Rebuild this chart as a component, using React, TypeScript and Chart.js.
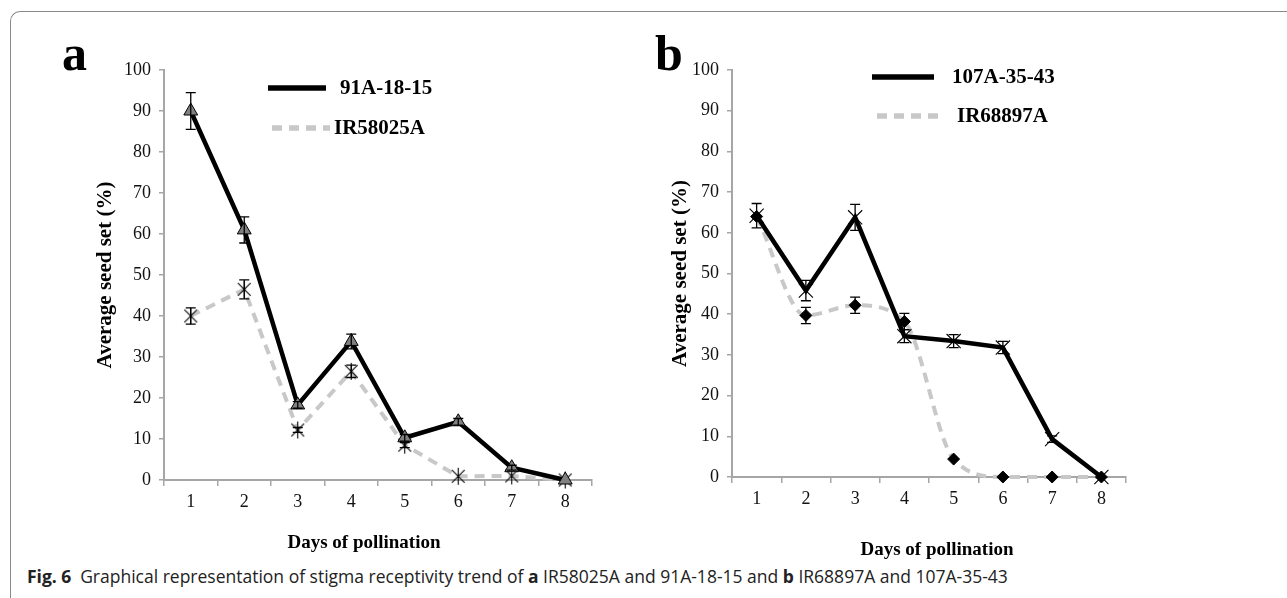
import React, { useEffect, useRef } from "react";
import { Chart, registerables } from "chart.js";

Chart.register(...registerables);

// ---------- data ----------
const days = ["1", "2", "3", "4", "5", "6", "7", "8"];

const labelA1 = "91A-18-15";
const a91A = [90.0, 61.0, 18.3, 33.8, 10.3, 14.2, 3.0, 0.0];
const a91AErr = [4.5, 3.2, 0.8, 1.8, 0.8, 0.8, 0.6, 0.0];

const labelA2 = "IR58025A";
const aIR58025A = [40.0, 46.5, 12.2, 26.5, 8.5, 0.9, 1.0, 0.0];
const aIR58025AErr = [2.0, 2.3, 0.6, 1.5, 0.6, 0.0, 0.0, 0.0];

const labelB1 = "107A-35-43";
const b107A = [64.2, 45.8, 63.8, 34.6, 33.4, 31.8, 9.3, 0.0];
const b107AErr = [3.0, 2.5, 3.2, 1.6, 1.6, 1.5, 0.8, 0.0];

const labelB2 = "IR68897A";
const bIR68897A = [64.0, 39.7, 42.2, 38.2, 4.4, 0.0, 0.0, 0.0];
const bIR68897AErr = [0.0, 2.0, 2.0, 2.0, 0.0, 0.0, 0.0, 0.0];

const yTitle = "Average seed set (%)";
const xTitle = "Days of pollination";

// ---------- styles ----------
const SERIF = '"Liberation Serif", "Times New Roman", serif';
const GRAY_LINE = "#c8c8c8";
const AXIS = "#a6a6a6";

function makeAsterisk(r: number) {
  const s = Math.ceil(r * 2 + 2);
  const c = document.createElement("canvas");
  c.width = s;
  c.height = s;
  const ctx = c.getContext("2d")!;
  const m = s / 2;
  const d = r * 0.75;
  ctx.strokeStyle = "#000";
  ctx.lineWidth = 1.1;
  ctx.beginPath();
  ctx.moveTo(m - d, m - d);
  ctx.lineTo(m + d, m + d);
  ctx.moveTo(m + d, m - d);
  ctx.lineTo(m - d, m + d);
  ctx.moveTo(m, m - r);
  ctx.lineTo(m, m + r);
  ctx.stroke();
  return c;
}

const errorBars = {
  id: "errorBars",
  afterDatasetsDraw(chart: any) {
    const ctx = chart.ctx;
    const ys = chart.scales.y;
    chart.data.datasets.forEach((ds: any, i: number) => {
      const errs = ds.errors;
      if (!errs) return;
      const meta = chart.getDatasetMeta(i);
      meta.data.forEach((pt: any, j: number) => {
        const e = errs[j];
        if (!e) return;
        const v = ds.data[j];
        const x = pt.x;
        const y1 = ys.getPixelForValue(v + e);
        const y2 = ys.getPixelForValue(v - e);
        ctx.save();
        ctx.strokeStyle = "#000";
        ctx.lineWidth = 1.3;
        ctx.beginPath();
        ctx.moveTo(x, y1);
        ctx.lineTo(x, y2);
        ctx.moveTo(x - 5, y1);
        ctx.lineTo(x + 5, y1);
        ctx.moveTo(x - 5, y2);
        ctx.lineTo(x + 5, y2);
        ctx.stroke();
        ctx.restore();
      });
    });
  },
};

const insideLegend = {
  id: "insideLegend",
  afterDraw(chart: any, _args: any, opts: any) {
    const ctx = chart.ctx;
    (opts.items || []).forEach((it: any) => {
      const ds = chart.data.datasets[it.index];
      ctx.save();
      ctx.strokeStyle = ds.borderColor;
      ctx.lineWidth = 5.5;
      ctx.setLineDash(ds.borderDash || []);
      ctx.beginPath();
      ctx.moveTo(it.x1, it.y);
      ctx.lineTo(it.x2, it.y);
      ctx.stroke();
      ctx.setLineDash([]);
      ctx.fillStyle = "#000";
      ctx.font = `bold ${opts.fontSize}px ${SERIF}`;
      ctx.textBaseline = "middle";
      ctx.textAlign = "left";
      ctx.fillText(ds.label, it.tx, it.y + 1);
      ctx.restore();
    });
  },
};

const xAxisTitle = {
  id: "xAxisTitle",
  afterDraw(chart: any, _args: any, opts: any) {
    const ctx = chart.ctx;
    const area = chart.chartArea;
    ctx.save();
    ctx.fillStyle = "#000";
    ctx.font = `bold ${opts.fontSize}px ${SERIF}`;
    ctx.textAlign = "center";
    ctx.textBaseline = "middle";
    ctx.fillText(opts.text, (area.left + area.right) / 2 + (opts.dx || 0), opts.y);
    ctx.restore();
  },
};

function buildOptions(p: {
  padLeft: number;
  padRight: number;
  yWidth: number;
  xHeight: number;
  yTitlePad: number;
  legendItems: any[];
  xTitleDx: number;
  xTitleY: number;
  xTitleSize: number;
}) {
  return {
    animation: false,
    responsive: false,
    maintainAspectRatio: false,
    layout: { padding: { left: p.padLeft, right: p.padRight, top: 70, bottom: 0 } },
    plugins: {
      legend: { display: false },
      tooltip: { enabled: false },
      insideLegend: { items: p.legendItems, fontSize: 21 },
      xAxisTitle: { text: xTitle, dx: p.xTitleDx, y: p.xTitleY, fontSize: p.xTitleSize },
    },
    scales: {
      x: {
        type: "category",
        offset: true,
        afterFit: (s: any) => {
          s.height = p.xHeight;
        },
        grid: {
          offset: true,
          drawOnChartArea: false,
          drawTicks: true,
          tickLength: 6,
          color: AXIS,
          lineWidth: 1.5,
        },
        border: { display: true, color: AXIS, width: 2 },
        ticks: {
          color: "#111",
          padding: 5,
          font: { family: SERIF, size: 18 },
          maxRotation: 0,
        },
      },
      y: {
        min: 0,
        max: 100,
        afterFit: (s: any) => {
          s.width = p.yWidth;
        },
        ticks: {
          stepSize: 10,
          color: "#111",
          padding: 8,
          font: { family: SERIF, size: 18 },
        },
        grid: {
          drawOnChartArea: false,
          drawTicks: true,
          tickLength: 5,
          color: AXIS,
          lineWidth: 1.5,
        },
        border: { display: true, color: AXIS, width: 2 },
        title: {
          display: true,
          text: yTitle,
          color: "#000",
          font: { family: SERIF, size: 21, weight: "bold" },
          padding: { top: p.yTitlePad, bottom: 0 },
        },
      },
    },
  };
}

function useChart(ref: React.RefObject<HTMLCanvasElement | null>, make: () => any) {
  useEffect(() => {
    if (!ref.current) return;
    const cfg = make();
    const chart = new Chart(ref.current, cfg);
    return () => chart.destroy();
  }, []);
}

export default function App() {
  const refA = useRef<HTMLCanvasElement | null>(null);
  const refB = useRef<HTMLCanvasElement | null>(null);

  useEffect(() => {
    document.body.style.margin = "0";
  }, []);

  useChart(refA, () => {
    const star = makeAsterisk(8.5);
    return {
      type: "line",
      data: {
        labels: days,
        datasets: [
          {
            label: labelA1,
            data: a91A,
            errors: a91AErr,
            borderColor: "#000",
            borderWidth: 4.5,
            tension: 0,
            pointStyle: "triangle",
            pointRadius: 8,
            pointBackgroundColor: "#808080",
            pointBorderColor: "#000",
            pointBorderWidth: 1,
            clip: false,
          },
          {
            label: labelA2,
            data: aIR58025A,
            errors: aIR58025AErr,
            borderColor: GRAY_LINE,
            borderWidth: 4,
            borderDash: [10, 7],
            tension: 0,
            pointStyle: star,
            pointRadius: 8,
            clip: false,
          },
        ],
      },
      options: buildOptions({
        padLeft: 91,
        padRight: 48,
        yWidth: 73,
        xHeight: 80,
        yTitlePad: 2,
        xTitleDx: -14,
        xTitleY: 543,
        xTitleSize: 19,
        legendItems: [
          { index: 0, x1: 268, x2: 326, y: 88, tx: 340 },
          { index: 1, x1: 272, x2: 330, y: 128, tx: 334 },
        ],
      }),
      plugins: [errorBars, insideLegend, xAxisTitle],
    };
  });

  useChart(refB, () => {
    return {
      type: "line",
      data: {
        labels: days,
        datasets: [
          {
            label: labelB1,
            data: b107A,
            errors: b107AErr,
            borderColor: "#000",
            borderWidth: 4.5,
            tension: 0,
            pointStyle: "crossRot",
            pointRadius: 10,
            pointBorderColor: "#000",
            pointBorderWidth: 1.1,
            clip: false,
          },
          {
            label: labelB2,
            data: bIR68897A,
            errors: bIR68897AErr,
            borderColor: GRAY_LINE,
            borderWidth: 4,
            borderDash: [10, 7],
            cubicInterpolationMode: "monotone",
            tension: 0.4,
            pointStyle: "rectRot",
            pointRadius: 6,
            pointBackgroundColor: "#000",
            pointBorderColor: "#000",
            pointBorderWidth: 1,
            clip: false,
          },
        ],
      },
      options: buildOptions({
        padLeft: 26,
        padRight: 161,
        yWidth: 66,
        xHeight: 83,
        yTitlePad: 2,
        xTitleDx: 8,
        xTitleY: 550,
        xTitleSize: 19,
        legendItems: [
          { index: 0, x1: 232, x2: 294, y: 77, tx: 312 },
          { index: 1, x1: 237, x2: 299, y: 116, tx: 317 },
        ],
      }),
      plugins: [errorBars, insideLegend, xAxisTitle],
    };
  });

  const panelLabel: React.CSSProperties = {
    position: "absolute",
    top: 28,
    fontFamily: SERIF,
    fontWeight: "bold",
    fontSize: 50,
    lineHeight: "50px",
    color: "#000",
  };

  return (
    <div
      style={{
        position: "relative",
        width: 1287,
        height: 598,
        overflow: "hidden",
        background: "#fff",
      }}
    >
      <div
        style={{
          position: "absolute",
          left: 10,
          top: 11,
          width: 1400,
          height: 700,
          borderTop: "1.5px solid #8a8a8a",
          borderLeft: "1.5px solid #8a8a8a",
          borderTopLeftRadius: 10,
        }}
      />
      <canvas
        ref={refA}
        width={640}
        height={560}
        style={{ position: "absolute", left: 0, top: 0, width: 640, height: 560 }}
      />
      <canvas
        ref={refB}
        width={647}
        height={560}
        style={{ position: "absolute", left: 640, top: 0, width: 647, height: 560 }}
      />
      <div style={{ ...panelLabel, left: 62 }}>a</div>
      <div style={{ ...panelLabel, left: 655 }}>b</div>
      <div
        style={{
          position: "absolute",
          left: 27,
          top: 565,
          fontFamily: '"Open Sans", "Noto Sans", sans-serif',
          fontSize: 17.5,
          lineHeight: "22px",
          color: "#222",
          whiteSpace: "nowrap",
        }}
      >
        <b>Fig. 6</b>
        {"\u2002Graphical representation of stigma receptivity trend of "}
        <b>a</b>
        {" IR58025A and 91A-18-15 and "}
        <b>b</b>
        {" IR68897A and 107A-35-43"}
      </div>
    </div>
  );
}
